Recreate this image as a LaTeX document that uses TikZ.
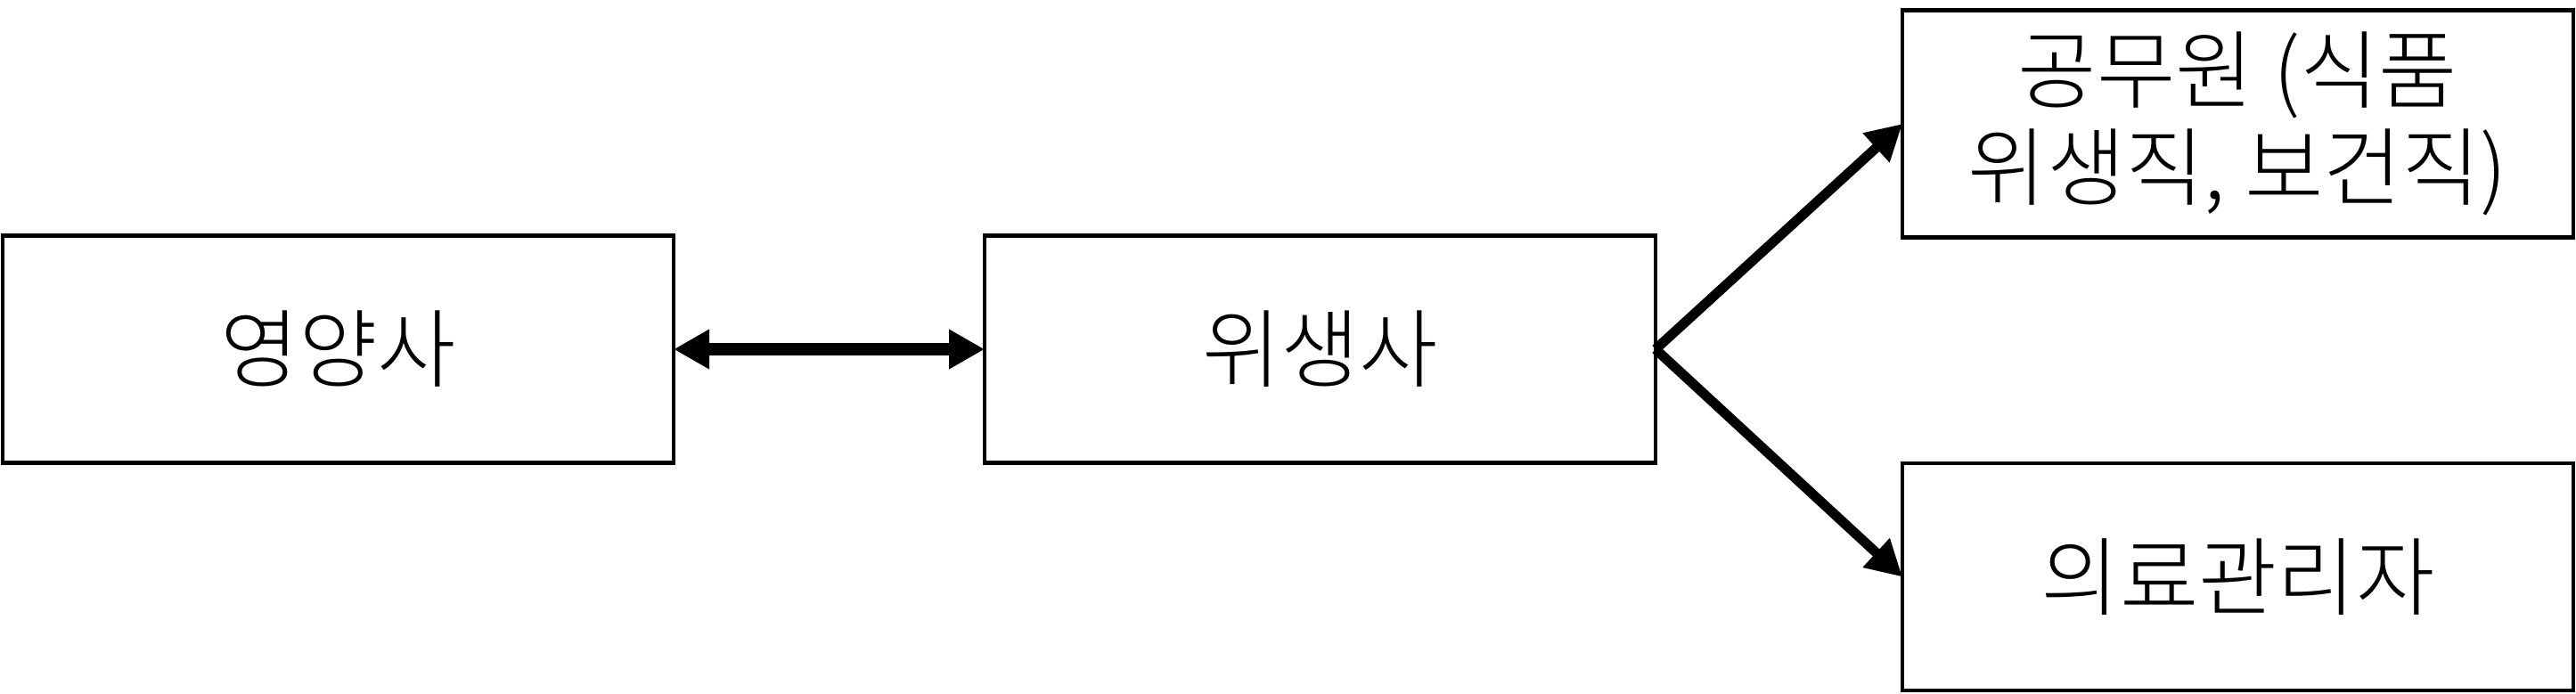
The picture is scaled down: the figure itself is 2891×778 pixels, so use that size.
\documentclass[tikz,border=0pt]{standalone}
\usepackage{fontspec}
\setmainfont{Noto Sans CJK KR Light}
\usetikzlibrary{arrows.meta}
\begin{document}
\begin{tikzpicture}[x=0.5pt,y=-0.5pt,
  box/.style={draw=black,line width=2.25pt,minimum width=376.5pt,minimum height=127.5pt,inner sep=0pt,outer sep=0pt,align=center,font=\fontsize{48pt}{54.5pt}\selectfont},
  conn/.style={line width=5.5pt,-{Triangle[length=20pt,width=21pt]}},
  biconn/.style={line width=7pt,{Triangle[length=20pt,width=21pt]}-{Triangle[length=20pt,width=21pt]}}]
\useasboundingbox (0,0) rectangle (2891,778);
\node[box] (a) at (379.5,392) {영양사};
\node[box] (b) at (1481.5,392) {위생사};
\node[box] (c) at (2511.5,139) {공무원 (식품\\위생직, 보건직)};
\node[box] (d) at (2511.5,647.5) {의료관리자};
\draw[biconn] (a.east) -- (b.west);
\draw[conn] (b.east) -- (c.west);
\draw[conn] (b.east) -- (d.west);
\end{tikzpicture}
\end{document}
